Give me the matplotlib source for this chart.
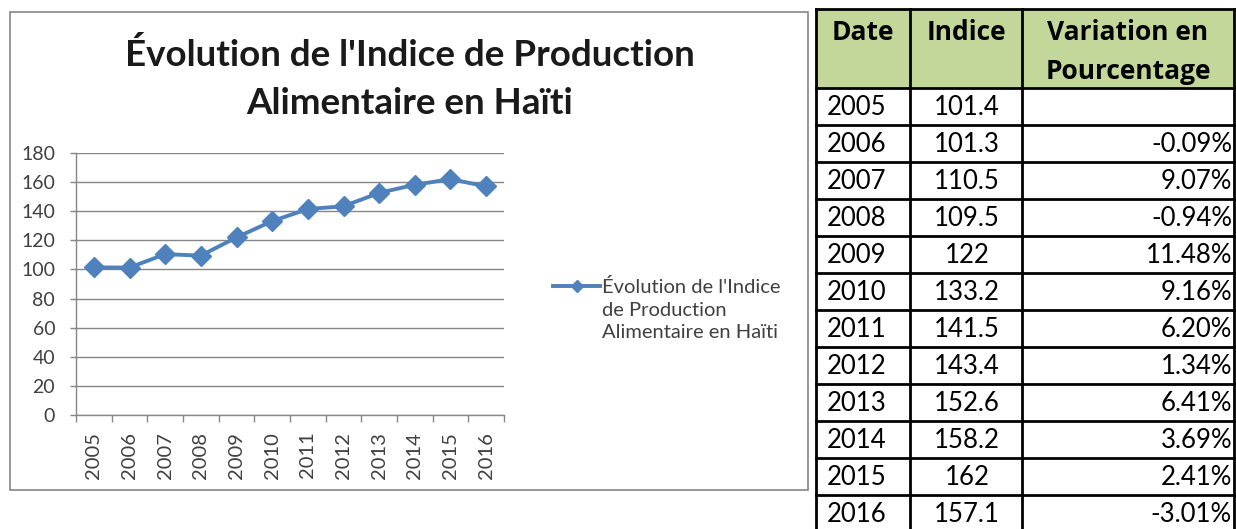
import matplotlib
matplotlib.use("Agg")
import matplotlib.pyplot as plt
from matplotlib.patches import Rectangle
from matplotlib.lines import Line2D

years = [2005, 2006, 2007, 2008, 2009, 2010, 2011, 2012, 2013, 2014, 2015, 2016]
indice = [101.4, 101.3, 110.5, 109.5, 122, 133.2, 141.5, 143.4, 152.6, 158.2, 162, 157.1]
indice_labels = ["101.4", "101.3", "110.5", "109.5", "122", "133.2", "141.5", "143.4",
                 "152.6", "158.2", "162", "157.1"]
variation = ["", "-0.09%", "9.07%", "-0.94%", "11.48%", "9.16%", "6.20%", "1.34%",
             "6.41%", "3.69%", "2.41%", "-3.01%"]
yticks = [0, 20, 40, 60, 80, 100, 120, 140, 160, 180]
title_lines = ["Évolution de l'Indice de Production", "Alimentaire en Haïti"]
series_lines = ["Évolution de l'Indice", "de Production", "Alimentaire en Haïti"]
headers = ["Date", "Indice", "Variation en", "Pourcentage"]

FONT = "Lato"
plt.rcParams['font.family'] = [FONT, 'DejaVu Sans']

W, H = 1236, 529
fig = plt.figure(figsize=(W / 100, H / 100), dpi=100)

def fx(px):
    return px / W

def fy(py):
    return 1 - py / H

# chart border
fig.patches.append(Rectangle((fx(10), fy(490)), fx(798), (490 - 12) / H,
                             transform=fig.transFigure, fill=False,
                             edgecolor="#868686", linewidth=1.2))

# title
fig.text(fx(410), fy(55), title_lines[0], ha="center", va="center", fontsize=26.5,
         fontweight="bold", color="#1a1a1a")
fig.text(fx(410), fy(103), title_lines[1], ha="center", va="center", fontsize=26.5,
         fontweight="bold", color="#1a1a1a")

# plot area
ax = fig.add_axes([fx(76), fy(415), fx(504 - 76), (415 - 153) / H])
x = list(range(len(years)))
line_color = "#4F81BD"
ax.plot(x, indice, color=line_color, linewidth=2.8, marker="D", markersize=10,
        markeredgecolor=line_color, markerfacecolor=line_color, zorder=3)
ax.set_xlim(-0.5, len(years) - 0.5)
ax.set_ylim(0, 180)
ax.set_yticks(yticks)
ax.set_yticklabels([str(v) for v in yticks], fontsize=14, color="#404040")
ax.set_xticks(x)
ax.set_xticklabels([str(y) for y in years], rotation=90, fontsize=14.5, color="#404040")
ax.tick_params(axis="x", length=0, pad=12)
ax.set_xticks([i - 0.5 for i in range(len(years) + 1)], minor=True)
ax.tick_params(axis="x", which="minor", length=5, color="#868686", width=1)
ax.tick_params(axis="y", length=4, color="#868686", width=1, pad=11)
ax.grid(axis="y", color="#868686", linewidth=1)
ax.set_axisbelow(True)
for s in ["top", "right"]:
    ax.spines[s].set_visible(False)
for s in ["left", "bottom"]:
    ax.spines[s].set_color("#868686")
    ax.spines[s].set_linewidth(1)

# legend (drawn by hand: handle aligned with first text line)
fig.lines.append(Line2D([fx(553), fx(600)], [fy(286), fy(286)], transform=fig.transFigure,
                        color=line_color, linewidth=2.8))
fig.lines.append(Line2D([fx(576.5)], [fy(286)], transform=fig.transFigure,
                        color=line_color, marker="D", markersize=6.5,
                        markerfacecolor=line_color, markeredgecolor=line_color))
for k, txt in enumerate(series_lines):
    fig.text(fx(602), fy(293 + 22.5 * k), txt, ha="left", va="baseline", fontsize=14.5,
             color="#404040")

# table
tx0, ty0, tw, th = 816, 9, 418, 524
tab = fig.add_axes([fx(tx0), fy(ty0 + th), fx(tw), th / H])
tab.set_xlim(0, tw)
tab.set_ylim(th, 0)
tab.axis("off")
col_edges = [0, 94, 206, tw]
header_h = 79
row_h = 37
row_edges = [0, header_h] + [header_h + row_h * (i + 1) for i in range(len(years))]
tab.add_patch(Rectangle((0, 0), tw, header_h, facecolor="#C4D79B", edgecolor="none"))
for xe in col_edges:
    tab.plot([xe, xe], [0, th], color="black", linewidth=2, clip_on=False)
for ye in row_edges:
    tab.plot([0, tw], [ye, ye], color="black", linewidth=2, clip_on=False)

hfont = dict(fontsize=19, fontweight="bold", color="black", family=["Open Sans", "DejaVu Sans"])
tab.text((col_edges[0] + col_edges[1]) / 2, 31, headers[0], ha="center", va="baseline", **hfont)
tab.text((col_edges[1] + col_edges[2]) / 2, 31, headers[1], ha="center", va="baseline", **hfont)
tab.text((col_edges[2] + col_edges[3]) / 2, 31, headers[2], ha="center", va="baseline", **hfont)
tab.text((col_edges[2] + col_edges[3]) / 2, 70, headers[3], ha="center", va="baseline", **hfont)

dfs = 18.5
for i, yr in enumerate(years):
    yb = header_h + row_h * i + 27
    tab.text(col_edges[0] + 11, yb, str(yr), ha="left", va="baseline", fontsize=dfs, color="black")
    tab.text((col_edges[1] + col_edges[2]) / 2 + 1, yb, indice_labels[i], ha="center",
             va="baseline", fontsize=dfs, color="black")
    if variation[i]:
        tab.text(col_edges[3] - 2, yb, variation[i], ha="right", va="baseline",
                 fontsize=dfs, color="black")

fig.savefig("out.png", dpi=100)
